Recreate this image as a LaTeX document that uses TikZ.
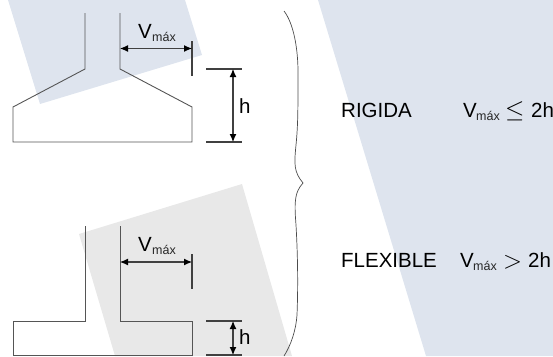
\documentclass[tikz,border=0pt]{standalone}
\usepackage{fontspec}
\setmainfont{Liberation Sans}
\usetikzlibrary{arrows.meta}
\definecolor{bluebg}{HTML}{DEE4EE}
\definecolor{graybg}{HTML}{E8E8E8}
\definecolor{wall}{HTML}{555555}
\tikzset{
  outline/.style={draw=wall,line width=0.9pt,line join=miter},
  extline/.style={draw=black!75,line width=1.1pt},
  dimline/.style={draw=black!75,line width=1.1pt,{Latex[length=8pt,width=7pt,black]}-{Latex[length=8pt,width=7pt,black]}},
  lbl/.style={inner sep=0pt,anchor=base west,text=black,font=\fontsize{20.5}{22}\selectfont},
  rel/.style={inner sep=0pt,anchor=base west,text=black,font=\fontsize{24}{26}\selectfont},
  subs/.style={inner sep=0pt,anchor=base west,text=black!85,font=\fontsize{12.5}{14}\selectfont},
  bracel/.style={draw=black!70,line width=0.7pt}
}
\begin{document}
\begin{tikzpicture}[x=1pt,y=-1pt]
\useasboundingbox (0,0) rectangle (553,356);
% backgrounds
\fill[bluebg] (8,0) -- (40,104) -- (202,55) -- (185,0) -- cycle;
\fill[bluebg] (318,0) -- (426,356) -- (553,356) -- (553,0) -- cycle;
\fill[graybg] (79,234) -- (242,184) -- (292,356) -- (115,356) -- cycle;
% upper footing
\draw[outline] (85,13) -- (85,69) -- (13,107) -- (13,142) -- (192,142) -- (192,107) -- (120,69) -- (120,13);
\coordinate (a1) at (120,48.5); \coordinate (a2) at (192,48.5);
\coordinate (e1) at (192,41); \coordinate (e2) at (192,76);
\draw[extline] (e1) -- (e2);
\draw[dimline] (a1) -- (a2);
\coordinate (t1) at (206,69); \coordinate (t2) at (242,69);
\coordinate (t3) at (206,142); \coordinate (t4) at (242,142);
\draw[extline] (t1) -- (t2);
\draw[extline] (t3) -- (t4);
\coordinate (h1) at (233,69); \coordinate (h2) at (233,142);
\draw[dimline] (h1) -- (h2);
\node[lbl] (vt1) at (138,38) {V};
\node[subs] (st1) at (152,41) {máx};
\node[lbl] (ht1) at (239,113) {h};
% lower footing
\draw[outline] (85,226) -- (85,321) -- (13,321) -- (13,355) -- (192,355) -- (192,321) -- (120,321) -- (120,226);
\coordinate (b1) at (120,262); \coordinate (b2) at (192,262);
\coordinate (f1) at (192,254); \coordinate (f2) at (192,289);
\draw[extline] (f1) -- (f2);
\draw[dimline] (b1) -- (b2);
\coordinate (u1) at (206,321); \coordinate (u2) at (242,321);
\coordinate (u3) at (206,355); \coordinate (u4) at (242,355);
\draw[extline] (u1) -- (u2);
\draw[extline] (u3) -- (u4);
\coordinate (k1) at (233,321); \coordinate (k2) at (233,355);
\draw[dimline] (k1) -- (k2);
\node[lbl] (vt2) at (138,251) {V};
\node[subs] (st2) at (152,254) {máx};
\node[lbl] (ht2) at (239,344) {h};
% brace
\draw[bracel] (284,11) .. controls (294,24) and (298,50) .. (298,72)
  .. controls (298,110) and (298,125) .. (296,145)
  .. controls (294,165) and (294,172) .. (303,183)
  .. controls (295,192) and (294,200) .. (296,225)
  .. controls (298,260) and (298,290) .. (297,315)
  .. controls (296,330) and (291,345) .. (284,356);
% labels
\node[lbl] (rig) at (341,117) {RIGIDA};
\node[lbl] (v3) at (463,117) {V};
\node[subs] (s3) at (476,120) {máx};
\node[rel] (le) at (505,117) {$\leq$};
\node[lbl] (r3) at (531,117) {2h};
\node[lbl] (fle) at (341,267) {FLEXIBLE};
\node[lbl] (v4) at (460,267) {V};
\node[subs] (s4) at (473,270) {máx};
\node[rel] (gt) at (503,268) {$>$};
\node[lbl] (r4) at (528,267) {2h};
\end{tikzpicture}
\end{document}
